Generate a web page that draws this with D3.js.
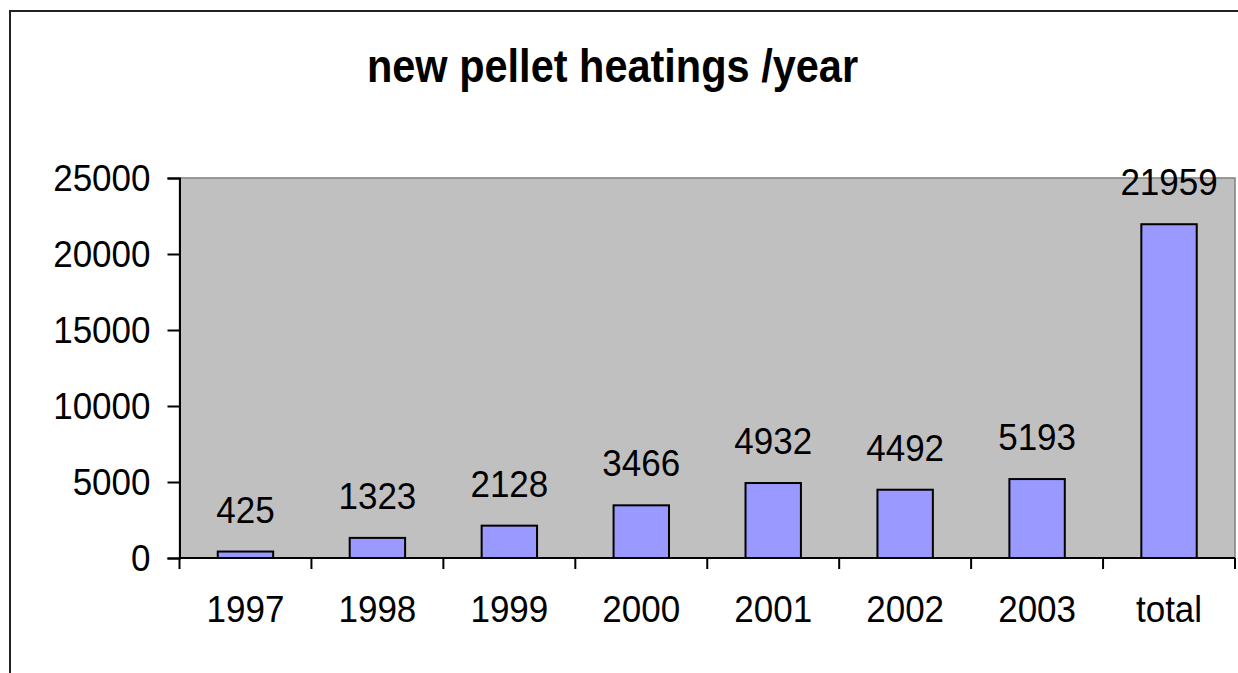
<!DOCTYPE html>
<html>
<head>
<meta charset="utf-8">
<script src="https://cdn.jsdelivr.net/npm/d3@7"></script>
<style>
  body { margin: 0; background: #fff; }
  text { font-family: "Liberation Sans", Arial, sans-serif; fill: #000; }
</style>
</head>
<body>
<div id="chart"></div>
<script>
// data
var categories = ['1997', '1998', '1999', '2000', '2001', '2002', '2003', 'total'];
var heatings = [425, 1323, 2128, 3466, 4932, 4492, 5193, 21959];
var yTicks = [0, 5000, 10000, 15000, 20000, 25000];
var title = 'new pellet heatings /year';

var W = 1238, H = 673;
var margin = {top: 178, right: 3, bottom: 115, left: 179.5};
var width = W - margin.left - margin.right,
    height = H - margin.top - margin.bottom;

var svg = d3.select('#chart').append('svg')
    .attr('width', W)
    .attr('height', H);

// outer frame (runs off the right / bottom edge)
svg.append('rect')
    .attr('x', 10).attr('y', 11)
    .attr('width', 1260).attr('height', 700)
    .attr('fill', 'none')
    .attr('stroke', '#222')
    .attr('stroke-width', 2);

svg.append('text')
    .attr('transform', 'translate(612.5,82) scale(1,1.1)')
    .attr('text-anchor', 'middle')
    .style('font-size', '41.5px')
    .style('font-weight', 'bold')
    .text(title);

var g = svg.append('g')
    .attr('transform', 'translate(' + margin.left + ',' + margin.top + ')');

var x = d3.scaleBand().domain(categories).range([0, width])
    .paddingInner(0.58).paddingOuter(0.29);
var y = d3.scaleLinear().domain([0, 25000]).range([height, 0]);
var step = x.step();

// plot area
g.append('rect')
    .attr('width', width).attr('height', height)
    .attr('fill', '#c0c0c0')
    .attr('stroke', '#808080')
    .attr('stroke-width', 1.5);

// bars
g.selectAll('.bar')
    .data(heatings)
  .enter().append('rect')
    .attr('class', 'bar')
    .attr('x', function(d, i) { return x(categories[i]); })
    .attr('y', function(d) { return y(d); })
    .attr('width', x.bandwidth())
    .attr('height', function(d) { return height - y(d); })
    .attr('fill', '#9999ff')
    .attr('stroke', '#000')
    .attr('stroke-width', 2);

// value labels
g.selectAll('.val')
    .data(heatings)
  .enter().append('text')
    .attr('class', 'val')
    .attr('transform', function(d, i) {
      return 'translate(' + (x(categories[i]) + x.bandwidth() / 2) + ',' + (y(d) - 29) + ') scale(1,1.07)';
    })
    .attr('text-anchor', 'middle')
    .style('font-size', '35px')
    .text(function(d) { return d; });

// y axis
var yAxis = g.append('g')
    .call(d3.axisLeft(y).tickValues(yTicks).tickSize(12).tickPadding(17).tickFormat(d3.format('d')));
yAxis.select('.domain').attr('stroke', '#000').attr('stroke-width', 2);
yAxis.selectAll('.tick line').attr('stroke', '#000').attr('stroke-width', 2);
yAxis.selectAll('.tick text')
    .attr('font-family', null).attr('font-size', null)
    .style('font-size', '35px')
    .attr('dy', null)
    .attr('dominant-baseline', 'central')
    .attr('transform', 'scale(1,1.07)')
    .attr('y', function(d) { return 0; });
yAxis.selectAll('.tick').each(function(d) {
  d3.select(this).select('text').attr('y', 0);
});

// x axis line, boundary ticks and labels
g.append('line')
    .attr('x1', 0).attr('x2', width)
    .attr('y1', height).attr('y2', height)
    .attr('stroke', '#000').attr('stroke-width', 2);

g.selectAll('.xtick')
    .data(d3.range(categories.length + 1))
  .enter().append('line')
    .attr('class', 'xtick')
    .attr('x1', function(i) { return i * step; })
    .attr('x2', function(i) { return i * step; })
    .attr('y1', height).attr('y2', height + 11)
    .attr('stroke', '#000').attr('stroke-width', 2);

g.selectAll('.xlab')
    .data(categories)
  .enter().append('text')
    .attr('class', 'xlab')
    .attr('transform', function(d) {
      return 'translate(' + (x(d) + x.bandwidth() / 2) + ',' + (height + 64) + ') scale(1,1.07)';
    })
    .attr('text-anchor', 'middle')
    .style('font-size', '35px')
    .text(function(d) { return d; });
</script>
</body>
</html>
